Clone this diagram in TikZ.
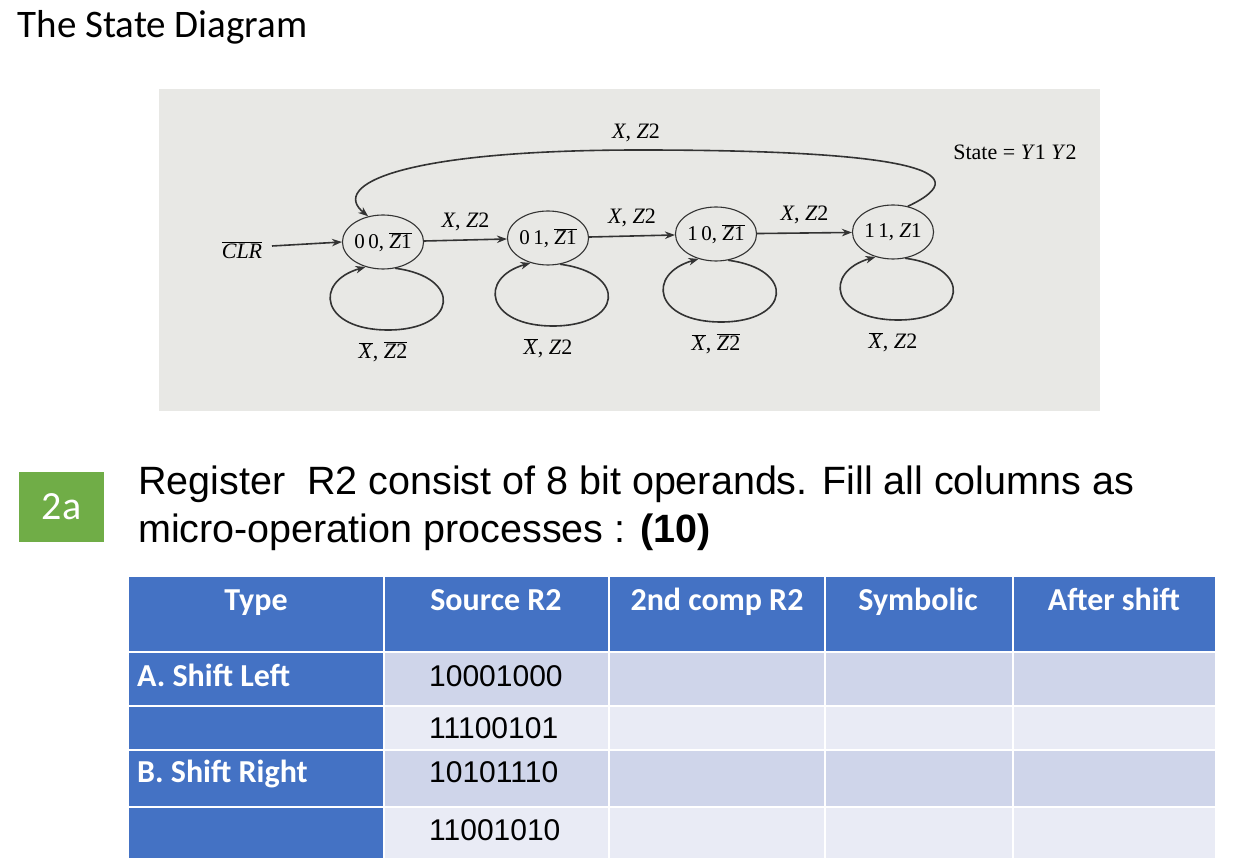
\documentclass[tikz,border=0pt]{standalone}
\usepackage{fontspec}
\setmainfont{Liberation Serif}
\newfontfamily\carl{Carlito}
\newfontfamily\arl{Liberation Sans}
\usetikzlibrary{shapes.geometric,arrows.meta,calc}
\definecolor{hdr}{HTML}{4472C4}
\definecolor{rowA}{HTML}{CFD5EA}
\definecolor{rowB}{HTML}{E9EBF5}
\definecolor{grn}{HTML}{70AD47}
\definecolor{paper}{HTML}{E8E8E5}
\newcommand{\ob}[1]{$\overline{\hbox{#1}}$}
\begin{document}
\begin{tikzpicture}[x=1pt,y=-1pt,
  st/.style={draw=black!80,line width=1.1pt,ellipse,minimum width=78pt,minimum height=54pt,inner sep=0pt,font=\fontsize{21}{23}\selectfont},
  lb/.style={font=\fontsize{22}{24}\selectfont},
  ar/.style={draw=black!80,line width=1.6pt,-{Stealth[length=10pt]}},
  hd/.style={font=\carl\bfseries\fontsize{32}{34}\selectfont,text=white,anchor=base,inner sep=0pt},
  tx/.style={font=\arl\fontsize{30}{32}\selectfont,anchor=base west,inner sep=0pt}]
\useasboundingbox (0,0) rectangle (1251,866);
\fill[white] (0,0) rectangle (1251,866);
\node[anchor=west,font=\carl\fontsize{39}{44}\selectfont] (title) at (14,27) {The State Diagram};
\fill[paper] (159,89) rectangle (1100,411);
% states
\node[st] (s0) at (383,242) {0\,0, \ob{\textit{Z}1}};
\node[st] (s1) at (548,238) {0\,1, \ob{\textit{Z}1}};
\node[st] (s2) at (716,234) {1\,0, \ob{\textit{Z}1}};
\node[st] (s3) at (893,232) {1\,1, \textit{Z}1};
\node[lb] (clr) at (242,250) {\ob{\textit{CLR}}};
\coordinate (c0) at (272,246);
\draw[ar] (c0) -- (s0.west);
\draw[ar] (s0) -- (s1) node[lb,midway,above=5pt] {\textit{X}, \textit{Z}2};
\draw[ar] (s1) -- (s2) node[lb,midway,above=5pt] {\textit{X}, \textit{Z}2};
\draw[ar] (s2) -- (s3) node[lb,midway,above=5pt] {\textit{X}, \textit{Z}2};
\draw[ar] (s3.60) .. controls (985,170) and (900,150) .. (640,150) .. controls (400,150) and (330,185) .. (s0.120);
\node[lb] (top) at (636,133) {\textit{X}, \textit{Z}2};
\node[lb] (stl) at (1015,152) {State = \textit{Y}1 \textit{Y}2};
\foreach \s/\l in {s0/{\ob{\textit{X}}, \ob{\textit{Z}2}},s1/{\ob{\textit{X}}, \textit{Z}2},s2/{\ob{\textit{X}}, \ob{\textit{Z}2}},s3/{\ob{\textit{X}}, \textit{Z}2}}{
  \draw[ar] (\s.-65) .. controls ($(\s)+(80,35)$) and ($(\s)+(75,88)$) .. ($(\s)+(5,88)$)
     .. controls ($(\s)+(-62,88)$) and ($(\s)+(-70,40)$) .. (\s.-125);
  \node[lb] at ($(\s)+(0,110)$) {\l};
}
% 2a
\node[fill=grn,minimum width=85pt,minimum height=70pt,text=white,font=\carl\fontsize{40}{44}\selectfont] (tag) at (61.5,507) {2a};
\node[anchor=north west,align=left,font=\arl\fontsize{39.5}{48}\selectfont,inner sep=0pt] (q) at (138,466) {Register\ \ R2 consist of 8 bit operands. Fill all columns as\\micro-operation processes : \textbf{(10)}};
% table
\fill[hdr] (129,577) rectangle (1215,651);
\fill[rowA] (384,653) rectangle (1215,706);
\fill[rowB] (384,706) rectangle (1215,750);
\fill[rowA] (384,750) rectangle (1215,807);
\fill[rowB] (384,807) rectangle (1215,858);
\fill[hdr] (129,653) rectangle (384,858);
\draw[white,line width=2.5pt] (129,652) -- (1215,652);
\foreach \y in {706,750,807} \draw[white,line width=2pt] (129,\y) -- (1215,\y);
\foreach \x in {384,609,825,1013} \draw[white,line width=2pt] (\x,577) -- (\x,858);
\node[hd] (h1) at (256,610) {Type};
\node[hd] (h2) at (496,610) {Source R2};
\node[hd] (h3) at (717,610) {2nd comp R2};
\node[hd] (h4) at (918,610) {Symbolic};
\node[hd] (h5) at (1114,610) {After shift};
\node[hd,anchor=base west] (a) at (137,686) {A. Shift Left};
\node[hd,anchor=base west] (b) at (137,782) {B. Shift Right};
\node[tx] (v1) at (429,686) {10001000};
\node[tx] (v2) at (429,738) {11100101};
\node[tx] (v3) at (429,782) {10101110};
\node[tx] (v4) at (429,840) {11001010};
\end{tikzpicture}
\end{document}
